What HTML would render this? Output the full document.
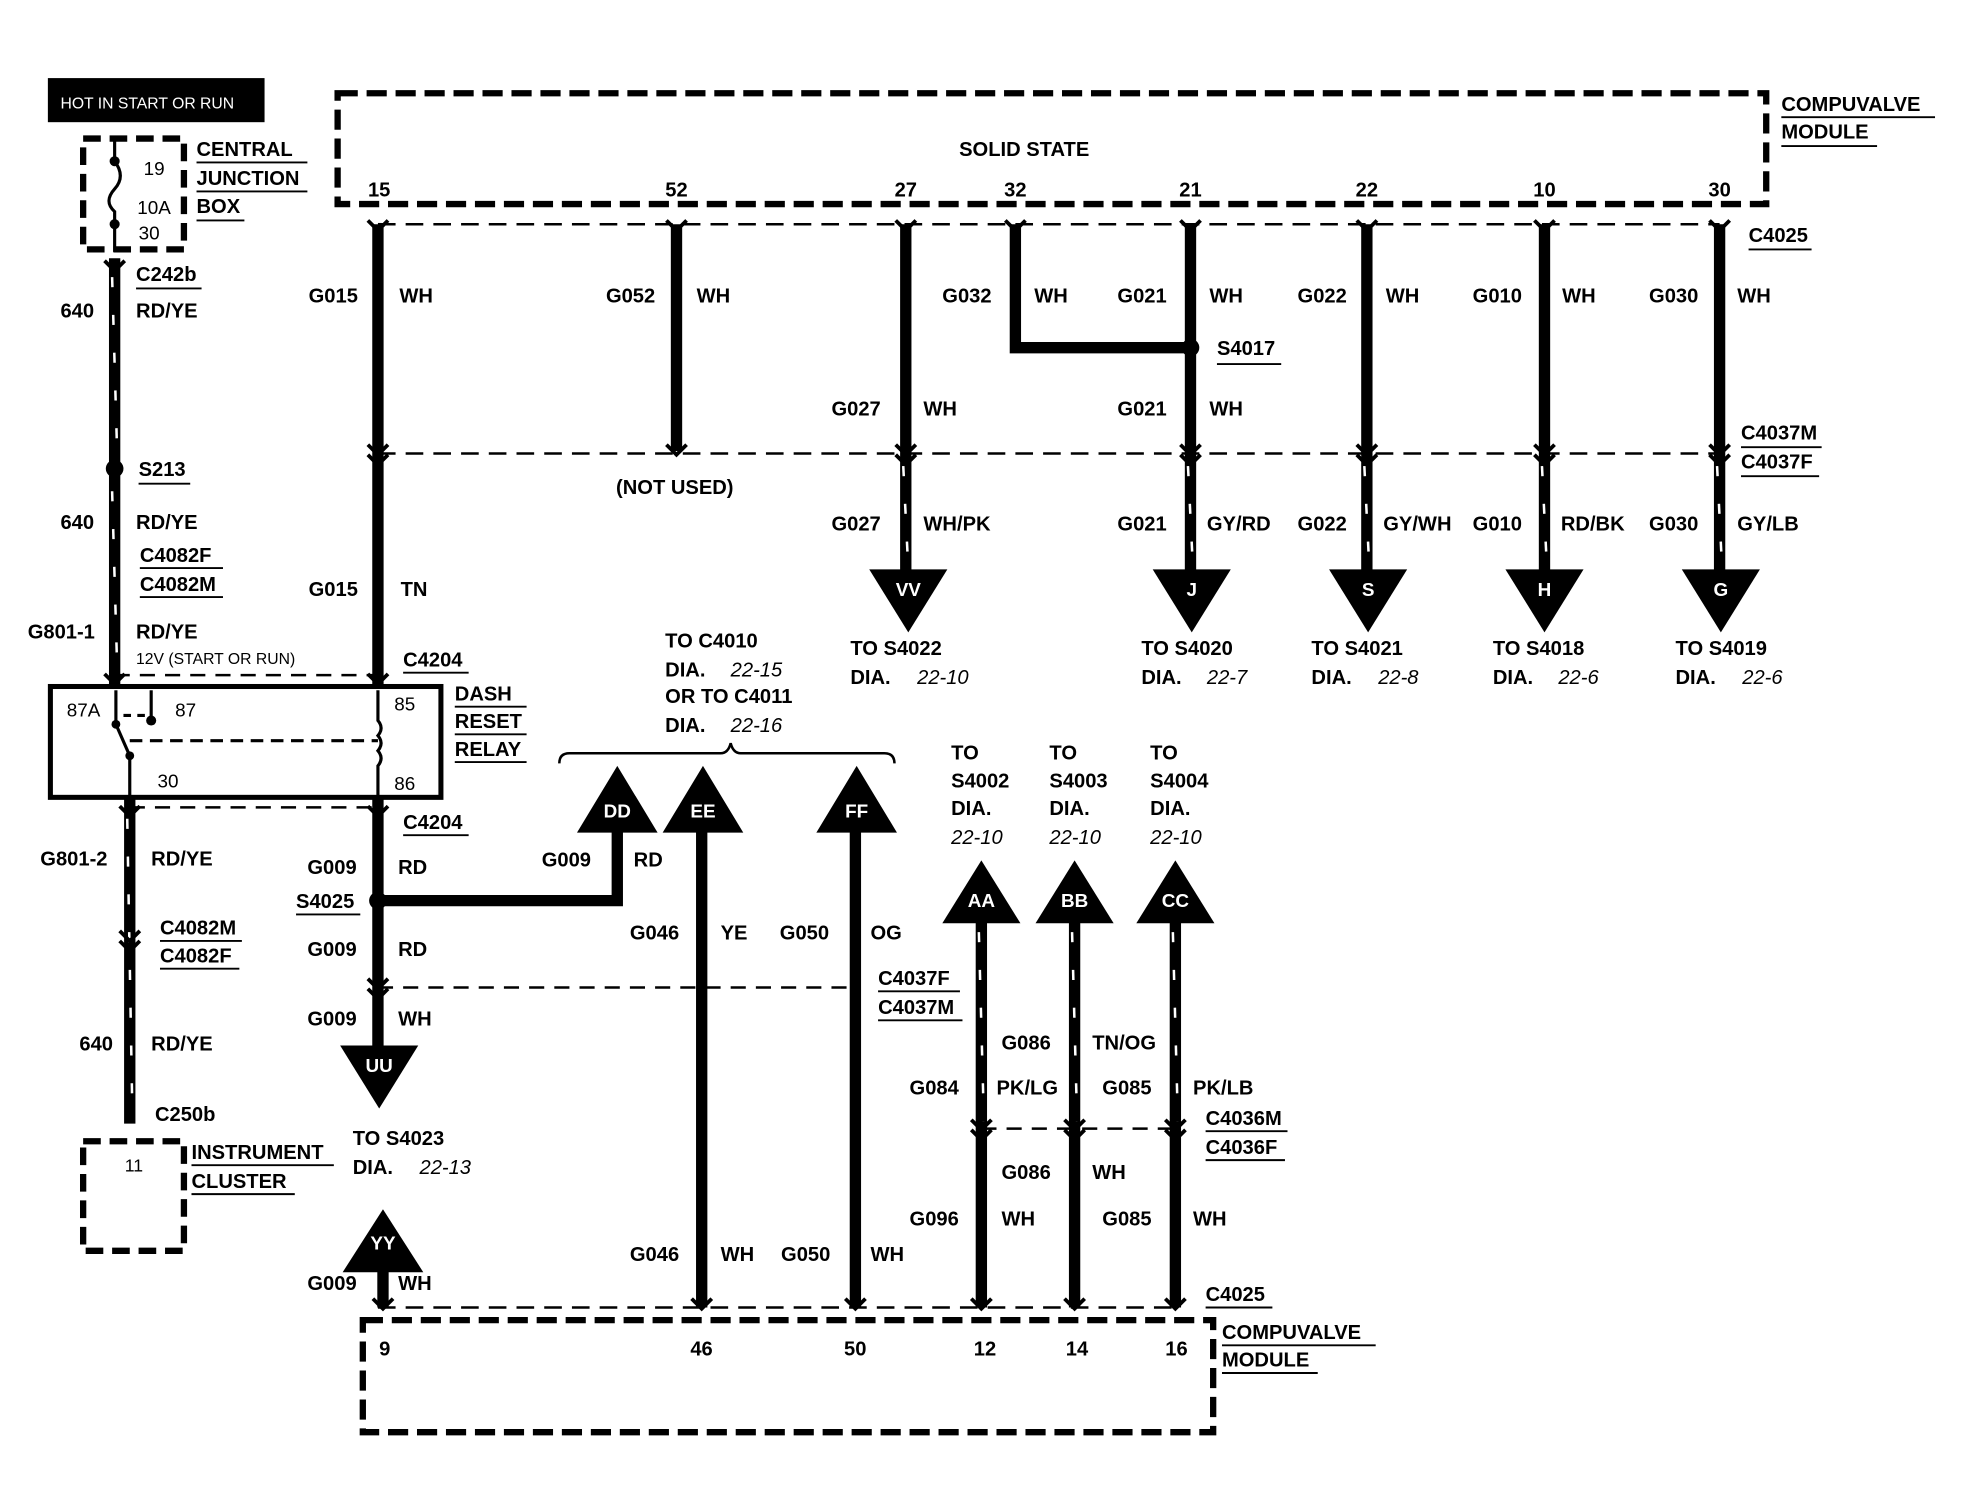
<!DOCTYPE html>
<html><head><meta charset="utf-8"><style>
html,body{margin:0;padding:0;background:#fff;width:1964px;height:1504px;overflow:hidden}
svg{display:block}
text{font-family:"Liberation Sans",sans-serif;font-weight:bold;font-size:16px;fill:#000}
.s{font-size:12.5px;font-weight:normal}
.i{font-style:italic;font-weight:normal}
.w{fill:#fff;text-anchor:middle;font-size:15px}
.c{text-anchor:middle}
</style></head><body>
<svg width="1964" height="1504" viewBox="0 0 1559 1194" preserveAspectRatio="none" xmlns="http://www.w3.org/2000/svg">
<defs>
<g id="y"><path d="M-8,-5 L0,3 L8,-5" fill="none" stroke="#000" stroke-width="3"/></g>
</defs>
<g stroke="#000" fill="none">
<rect x="268" y="74" width="1134" height="88" stroke-width="5" stroke-dasharray="16,7"/>
<line x1="300" y1="178" x2="1365" y2="178" stroke-width="2" stroke-dasharray="14,8"/>
<line x1="300" y1="360" x2="1365" y2="360" stroke-width="2" stroke-dasharray="14,8"/>
<g stroke-width="9">
<line x1="300" y1="178" x2="300" y2="545"/>
<line x1="537" y1="178" x2="537" y2="358"/>
<line x1="719" y1="178" x2="719" y2="456"/>
<polyline points="806,178 806,276 945,276"/>
<line x1="945" y1="178" x2="945" y2="456"/>
<line x1="1085" y1="178" x2="1085" y2="456"/>
<line x1="1226" y1="178" x2="1226" y2="456"/>
<line x1="1365" y1="178" x2="1365" y2="456"/>
</g>
<g stroke="#fff" stroke-width="2" stroke-dasharray="8,22">
<line x1="717" y1="370" x2="721" y2="452"/>
<line x1="943" y1="370" x2="947" y2="452"/>
<line x1="1083" y1="370" x2="1087" y2="452"/>
<line x1="1224" y1="370" x2="1228" y2="452"/>
<line x1="1363" y1="370" x2="1367" y2="452"/>
</g>
<rect x="66" y="110" width="80" height="88" stroke-width="5" stroke-dasharray="14,7"/>
<path d="M91,112 L91,128 Q100,140 91,150 Q82,160 91,168 L91,200" stroke-width="2.5"/>
<line x1="91" y1="205" x2="91" y2="545" stroke-width="9"/>
<line x1="103" y1="633" x2="103" y2="892" stroke-width="9"/>
<g stroke="#fff" stroke-width="2" stroke-dasharray="8,22">
<line x1="89" y1="220" x2="93" y2="360"/>
<line x1="89" y1="390" x2="93" y2="530"/>
<line x1="101" y1="650" x2="105" y2="880"/>
</g>
<rect x="40" y="545" width="310" height="88" stroke-width="4"/>
<line x1="91" y1="536" x2="300" y2="536" stroke-width="2" stroke-dasharray="12,8"/>
<line x1="103" y1="641" x2="300" y2="641" stroke-width="2" stroke-dasharray="12,8"/>
<g stroke-width="2.5">
<line x1="92" y1="548" x2="92" y2="575"/>
<line x1="92" y1="575" x2="103" y2="600"/>
<line x1="103" y1="600" x2="103" y2="632"/>
<line x1="120" y1="548" x2="120" y2="572"/>
<line x1="98" y1="568" x2="118" y2="568" stroke-dasharray="6,5"/>
<line x1="103" y1="588" x2="300" y2="588" stroke-dasharray="10,6"/>
<path d="M300,548 L300,572 Q305,578 300,584 Q305,590 300,596 Q305,602 300,608 L300,632"/>
</g>
<line x1="300" y1="633" x2="300" y2="832" stroke-width="9"/>
<polyline points="300,715 490,715 490,655" stroke-width="9"/>
<line x1="300" y1="784" x2="680" y2="784" stroke-width="2" stroke-dasharray="12,8"/>
<line x1="557" y1="655" x2="557" y2="1038" stroke-width="9"/>
<line x1="679" y1="655" x2="679" y2="1038" stroke-width="9"/>
<line x1="304" y1="1005" x2="304" y2="1038" stroke-width="9"/>
<path d="M444,606 Q444,598 452,598 L572,598 Q578,598 580,590 Q582,598 588,598 L702,598 Q710,598 710,606" stroke-width="2"/>
<line x1="779" y1="728" x2="779" y2="1038" stroke-width="9"/>
<line x1="853" y1="728" x2="853" y2="1038" stroke-width="9"/>
<line x1="933" y1="728" x2="933" y2="1038" stroke-width="9"/>
<g stroke="#fff" stroke-width="2" stroke-dasharray="8,22">
<line x1="777" y1="740" x2="781" y2="890"/>
<line x1="851" y1="740" x2="855" y2="890"/>
<line x1="931" y1="740" x2="935" y2="890"/>
</g>
<line x1="779" y1="896" x2="933" y2="896" stroke-width="2" stroke-dasharray="12,8"/>
<line x1="300" y1="1038" x2="935" y2="1038" stroke-width="2" stroke-dasharray="14,8"/>
<rect x="288" y="1048" width="675" height="89" stroke-width="5" stroke-dasharray="16,7"/>
<rect x="66" y="906" width="80" height="87" stroke-width="5" stroke-dasharray="14,7"/>
<g stroke-width="1.5">
<line x1="1414" y1="93" x2="1536" y2="93"/><line x1="1414" y1="116" x2="1490" y2="116"/>
<line x1="1388" y1="198" x2="1438" y2="198"/>
<line x1="1382" y1="355" x2="1446" y2="355"/><line x1="1382" y1="378" x2="1444" y2="378"/>
<line x1="966" y1="289" x2="1017" y2="289"/>
<line x1="156" y1="129" x2="244" y2="129"/><line x1="156" y1="152" x2="244" y2="152"/><line x1="156" y1="175" x2="194" y2="175"/>
<line x1="108" y1="229" x2="160" y2="229"/>
<line x1="110" y1="384" x2="151" y2="384"/>
<line x1="111" y1="451" x2="177" y2="451"/><line x1="111" y1="474" x2="177" y2="474"/>
<line x1="361" y1="561" x2="418" y2="561"/><line x1="361" y1="583" x2="418" y2="583"/><line x1="361" y1="605" x2="418" y2="605"/>
<line x1="127" y1="747" x2="192" y2="747"/><line x1="127" y1="769" x2="190" y2="769"/>
<line x1="152" y1="925" x2="265" y2="925"/><line x1="152" y1="948" x2="234" y2="948"/>
<line x1="235" y1="726" x2="286" y2="726"/>
<line x1="697" y1="787" x2="762" y2="787"/><line x1="697" y1="810" x2="764" y2="810"/>
<line x1="957" y1="898" x2="1022" y2="898"/><line x1="957" y1="921" x2="1020" y2="921"/>
<line x1="957" y1="1038" x2="1010" y2="1038"/>
<line x1="970" y1="1068" x2="1092" y2="1068"/><line x1="970" y1="1090" x2="1046" y2="1090"/>
<line x1="320" y1="534" x2="372" y2="534"/><line x1="320" y1="663" x2="372" y2="663"/>
</g>
</g>
<g>
<use href="#y" x="300" y="180"/><use href="#y" x="537" y="180"/><use href="#y" x="719" y="180"/><use href="#y" x="806" y="180"/><use href="#y" x="945" y="180"/><use href="#y" x="1085" y="180"/><use href="#y" x="1226" y="180"/><use href="#y" x="1365" y="180"/>
<use href="#y" x="300" y="358"/><use href="#y" x="537" y="358"/><use href="#y" x="719" y="358"/><use href="#y" x="945" y="358"/><use href="#y" x="1085" y="358"/><use href="#y" x="1226" y="358"/><use href="#y" x="1365" y="358"/>
<use href="#y" x="300" y="366"/><use href="#y" x="719" y="366"/><use href="#y" x="945" y="366"/><use href="#y" x="1085" y="366"/><use href="#y" x="1226" y="366"/><use href="#y" x="1365" y="366"/>
<use href="#y" x="91" y="212"/><use href="#y" x="91" y="540"/><use href="#y" x="300" y="540"/><use href="#y" x="103" y="645"/><use href="#y" x="300" y="645"/>
<use href="#y" x="300" y="782"/><use href="#y" x="300" y="790"/><use href="#y" x="103" y="744"/><use href="#y" x="103" y="752"/>
<use href="#y" x="779" y="894"/><use href="#y" x="853" y="894"/><use href="#y" x="933" y="894"/><use href="#y" x="779" y="902"/><use href="#y" x="853" y="902"/><use href="#y" x="933" y="902"/>
<use href="#y" x="304" y="1036"/><use href="#y" x="557" y="1036"/><use href="#y" x="679" y="1036"/><use href="#y" x="779" y="1036"/><use href="#y" x="853" y="1036"/><use href="#y" x="933" y="1036"/>
</g>
<circle cx="945" cy="276" r="7"/><circle cx="91" cy="372" r="7"/><circle cx="300" cy="715" r="7"/>
<circle cx="91" cy="128" r="4"/><circle cx="91" cy="178" r="4"/>
<circle cx="92" cy="575" r="3.5"/><circle cx="103" cy="600" r="3.5"/><circle cx="120" cy="572" r="4"/>
<g>
<polygon points="690,452 752,452 721,502"/><polygon points="915,452 977,452 946,502"/><polygon points="1055,452 1117,452 1086,502"/><polygon points="1195,452 1257,452 1226,502"/><polygon points="1335,452 1397,452 1366,502"/>
<polygon points="270,830 332,830 301,880"/>
<polygon points="272,1010 336,1010 304,960"/>
<polygon points="458,661 522,661 490,608"/><polygon points="526,661 590,661 558,608"/><polygon points="648,661 712,661 680,608"/>
<polygon points="748,733 810,733 779,683"/><polygon points="822,733 884,733 853,683"/><polygon points="902,733 964,733 933,683"/>
</g>
<g class="w">
<text x="721" y="473" class="w">VV</text><text x="946" y="473" class="w">J</text><text x="1086" y="473" class="w">S</text><text x="1226" y="473" class="w">H</text><text x="1366" y="473" class="w">G</text>
<text x="301" y="851" class="w">UU</text><text x="304" y="992" class="w">YY</text>
<text x="490" y="649" class="w">DD</text><text x="558" y="649" class="w">EE</text><text x="680" y="649" class="w">FF</text>
<text x="779" y="720" class="w">AA</text><text x="853" y="720" class="w">BB</text><text x="933" y="720" class="w">CC</text>
</g>
<rect x="38" y="62" width="172" height="35" fill="#000"/>
<text x="48" y="86" class="s" style="fill:#fff">HOT IN START OR RUN</text>
<text x="813" y="124" class="c">SOLID STATE</text>
<g class="c">
<text x="301" y="156" class="c">15</text><text x="537" y="156" class="c">52</text><text x="719" y="156" class="c">27</text><text x="806" y="156" class="c">32</text><text x="945" y="156" class="c">21</text><text x="1085" y="156" class="c">22</text><text x="1226" y="156" class="c">10</text><text x="1365" y="156" class="c">30</text>
</g>
<text x="1414" y="88">COMPUVALVE</text><text x="1414" y="110">MODULE</text>
<text x="1388" y="192">C4025</text>
<text x="245" y="240">G015</text><text x="317" y="240">WH</text>
<text x="481" y="240">G052</text><text x="553" y="240">WH</text>
<text x="748" y="240">G032</text><text x="821" y="240">WH</text>
<text x="887" y="240">G021</text><text x="960" y="240">WH</text>
<text x="1030" y="240">G022</text><text x="1100" y="240">WH</text>
<text x="1169" y="240">G010</text><text x="1240" y="240">WH</text>
<text x="1309" y="240">G030</text><text x="1379" y="240">WH</text>
<text x="966" y="282">S4017</text>
<text x="660" y="330">G027</text><text x="733" y="330">WH</text>
<text x="887" y="330">G021</text><text x="960" y="330">WH</text>
<text x="1382" y="349">C4037M</text><text x="1382" y="372">C4037F</text>
<text x="489" y="392">(NOT USED)</text>
<text x="660" y="421">G027</text><text x="733" y="421">WH/PK</text>
<text x="887" y="421">G021</text><text x="958" y="421">GY/RD</text>
<text x="1030" y="421">G022</text><text x="1098" y="421">GY/WH</text>
<text x="1169" y="421">G010</text><text x="1239" y="421">RD/BK</text>
<text x="1309" y="421">G030</text><text x="1379" y="421">GY/LB</text>
<text x="675" y="520">TO S4022</text><text x="675" y="543">DIA.</text><text x="728" y="543" class="i">22-10</text>
<text x="906" y="520">TO S4020</text><text x="906" y="543">DIA.</text><text x="958" y="543" class="i">22-7</text>
<text x="1041" y="520">TO S4021</text><text x="1041" y="543">DIA.</text><text x="1094" y="543" class="i">22-8</text>
<text x="1185" y="520">TO S4018</text><text x="1185" y="543">DIA.</text><text x="1237" y="543" class="i">22-6</text>
<text x="1330" y="520">TO S4019</text><text x="1330" y="543">DIA.</text><text x="1383" y="543" class="i">22-6</text>
<text x="114" y="139" class="s" style="font-size:15px">19</text><text x="109" y="170" class="s" style="font-size:15px">10A</text><text x="110" y="190" class="s" style="font-size:15px">30</text>
<text x="156" y="124">CENTRAL</text><text x="156" y="147">JUNCTION</text><text x="156" y="169">BOX</text>
<text x="108" y="223">C242b</text>
<text x="48" y="252">640</text><text x="108" y="252">RD/YE</text>
<text x="110" y="378">S213</text>
<text x="48" y="420">640</text><text x="108" y="420">RD/YE</text>
<text x="111" y="446">C4082F</text><text x="111" y="469">C4082M</text>
<text x="22" y="507">G801-1</text><text x="108" y="507">RD/YE</text>
<text x="108" y="527" class="s">12V (START OR RUN)</text>
<text x="245" y="473">G015</text><text x="318" y="473">TN</text>
<text x="320" y="529">C4204</text>
<text x="53" y="569" class="s" style="font-size:15px">87A</text><text x="139" y="569" class="s" style="font-size:15px">87</text>
<text x="125" y="625" class="s" style="font-size:15px">30</text><text x="313" y="564" class="s" style="font-size:15px">85</text><text x="313" y="627" class="s" style="font-size:15px">86</text>
<text x="361" y="556">DASH</text><text x="361" y="578">RESET</text><text x="361" y="600">RELAY</text>
<text x="320" y="658">C4204</text>
<text x="32" y="687">G801-2</text><text x="120" y="687">RD/YE</text>
<text x="127" y="742">C4082M</text><text x="127" y="764">C4082F</text>
<text x="63" y="834">640</text><text x="120" y="834">RD/YE</text>
<text x="123" y="890">C250b</text>
<text x="99" y="930" class="s" style="font-size:14px">11</text>
<text x="152" y="920">INSTRUMENT</text><text x="152" y="943">CLUSTER</text>
<text x="244" y="694">G009</text><text x="316" y="694">RD</text>
<text x="235" y="721">S4025</text>
<text x="244" y="759">G009</text><text x="316" y="759">RD</text>
<text x="244" y="814">G009</text><text x="316" y="814">WH</text>
<text x="280" y="909">TO S4023</text><text x="280" y="932">DIA.</text><text x="333" y="932" class="i">22-13</text>
<text x="244" y="1024">G009</text><text x="316" y="1024">WH</text>
<text x="430" y="688">G009</text><text x="503" y="688">RD</text>
<text x="528" y="514">TO C4010</text><text x="528" y="537">DIA.</text><text x="580" y="537" class="i">22-15</text>
<text x="528" y="558">OR TO C4011</text><text x="528" y="581">DIA.</text><text x="580" y="581" class="i">22-16</text>
<text x="500" y="746">G046</text><text x="572" y="746">YE</text>
<text x="619" y="746">G050</text><text x="691" y="746">OG</text>
<text x="697" y="782">C4037F</text><text x="697" y="805">C4037M</text>
<text x="755" y="603">TO</text><text x="755" y="625">S4002</text><text x="755" y="647">DIA.</text><text x="755" y="670" class="i">22-10</text>
<text x="833" y="603">TO</text><text x="833" y="625">S4003</text><text x="833" y="647">DIA.</text><text x="833" y="670" class="i">22-10</text>
<text x="913" y="603">TO</text><text x="913" y="625">S4004</text><text x="913" y="647">DIA.</text><text x="913" y="670" class="i">22-10</text>
<text x="795" y="833">G086</text><text x="867" y="833">TN/OG</text>
<text x="722" y="869">G084</text><text x="791" y="869">PK/LG</text>
<text x="875" y="869">G085</text><text x="947" y="869">PK/LB</text>
<text x="957" y="893">C4036M</text><text x="957" y="916">C4036F</text>
<text x="795" y="936">G086</text><text x="867" y="936">WH</text>
<text x="722" y="973">G096</text><text x="795" y="973">WH</text>
<text x="875" y="973">G085</text><text x="947" y="973">WH</text>
<text x="500" y="1001">G046</text><text x="572" y="1001">WH</text>
<text x="620" y="1001">G050</text><text x="691" y="1001">WH</text>
<text x="957" y="1033">C4025</text>
<text x="970" y="1063">COMPUVALVE</text><text x="970" y="1085">MODULE</text>
<g class="s" style="font-size:15px">
<text x="301" y="1076">9</text><text x="548" y="1076">46</text><text x="670" y="1076">50</text><text x="773" y="1076">12</text><text x="846" y="1076">14</text><text x="925" y="1076">16</text>
</g>
</svg>
</body></html>
